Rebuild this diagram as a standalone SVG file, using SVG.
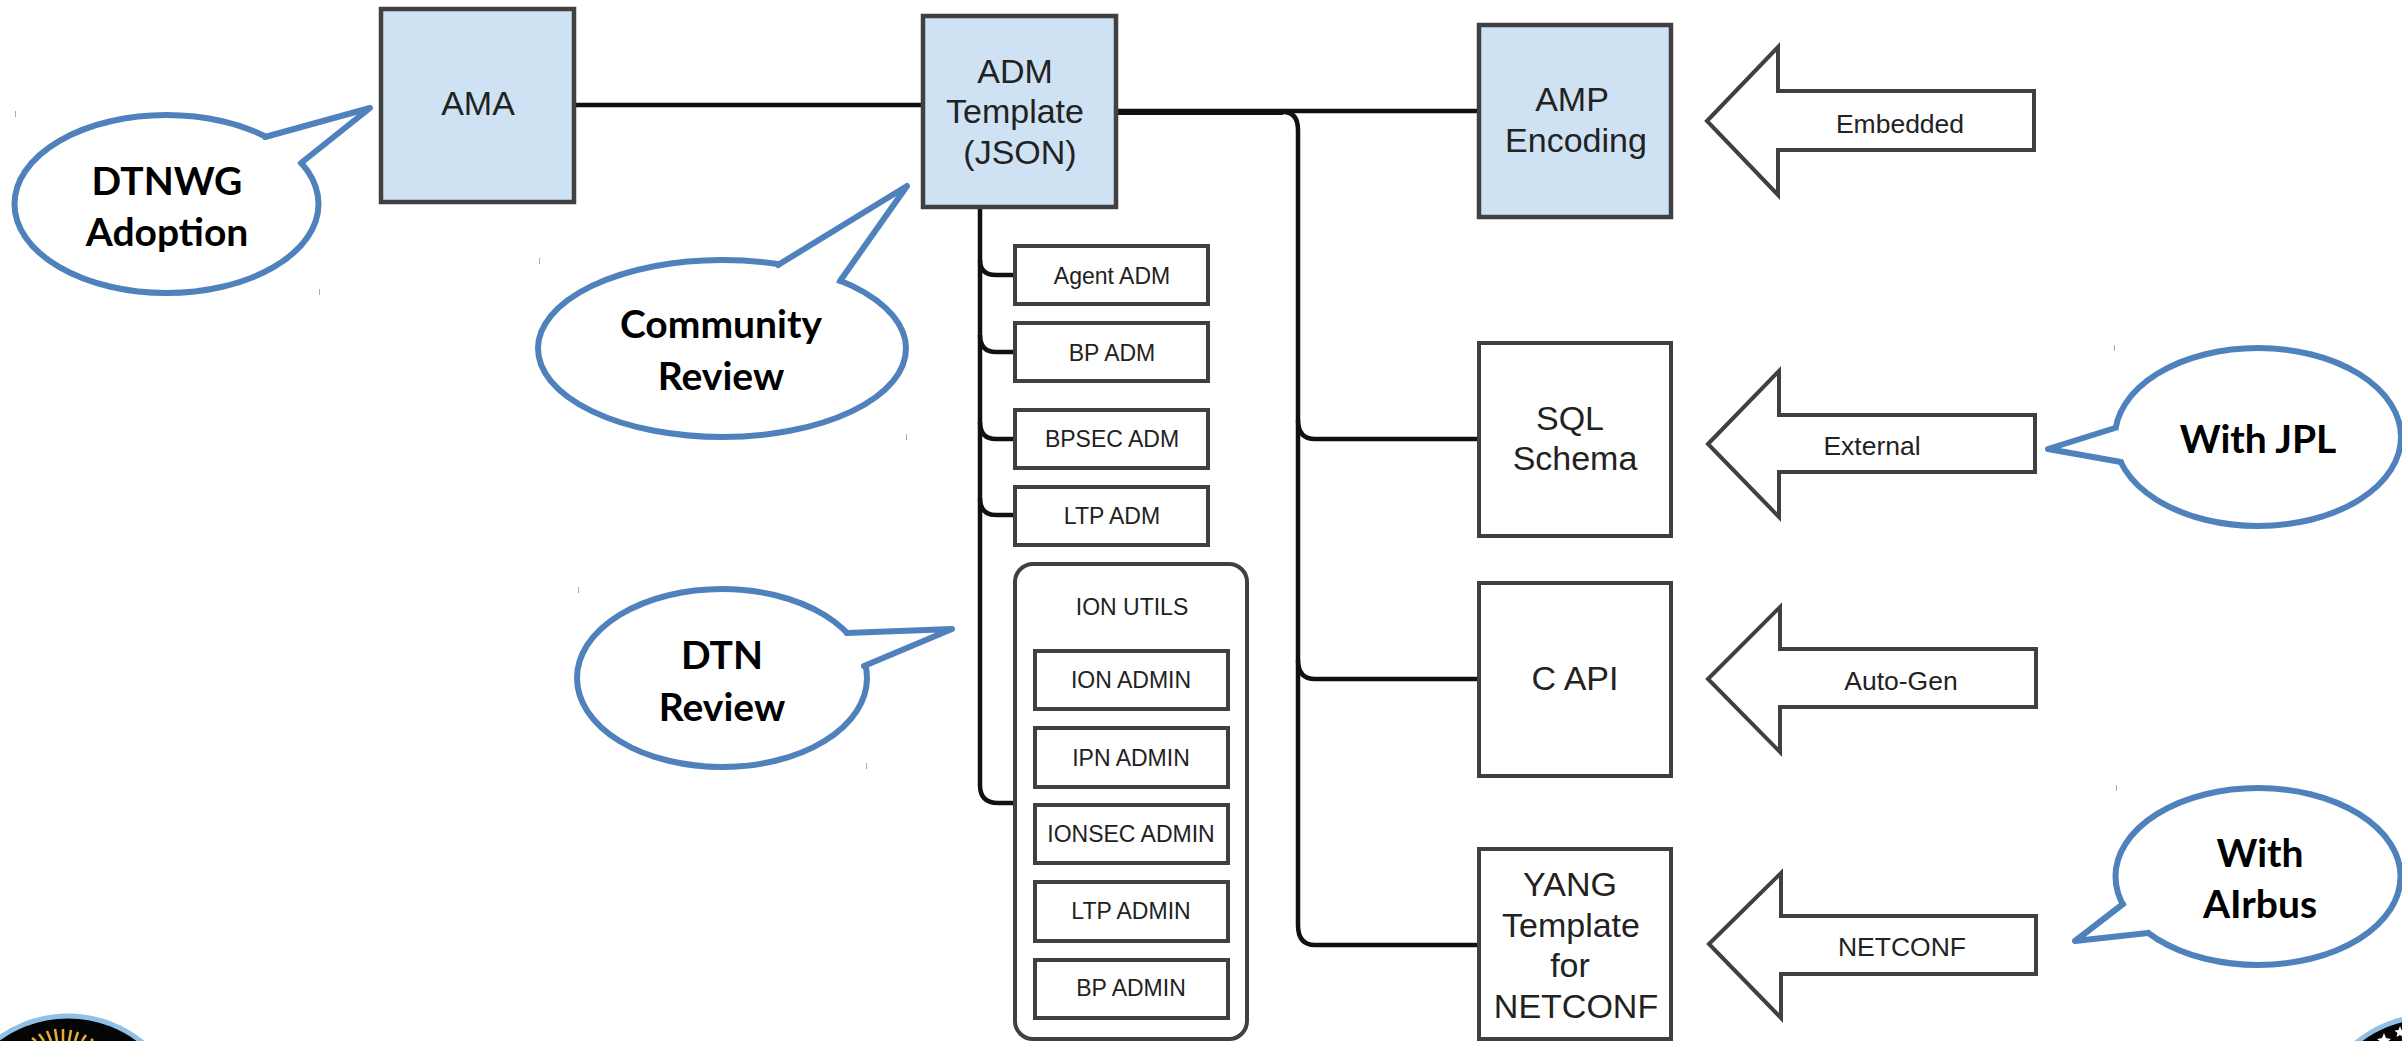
<svg xmlns="http://www.w3.org/2000/svg" width="2402" height="1041" viewBox="0 0 2402 1041">
<style>
.bx{fill:#fff;stroke:#404040;stroke-width:4}
.bl{fill:#cfe2f3;stroke:#404040;stroke-width:4.5}
.ln{fill:none;stroke:#111;stroke-width:4.5}
.ar{fill:#fff;stroke:#404040;stroke-width:4;stroke-linejoin:miter}
.co{fill:#fff;stroke:#4f81bd;stroke-width:6;stroke-linejoin:round}
.cf{fill:#fff;stroke:none}
.cp{fill:none;stroke:#4f81bd;stroke-width:6;stroke-linejoin:round;stroke-linecap:round}
.t{font-family:"Liberation Sans",Arial,sans-serif;fill:#222;text-anchor:middle}
.l{font-size:34px}.s{font-size:23px}.m{font-size:23px}.a{font-size:26.500px}
.c{font-family:Lato,"Open Sans",sans-serif;font-weight:700;font-size:39px;fill:#000;text-anchor:middle}
.tick{fill:#8fb0d8}
.ray{fill:none;stroke:#e8ab3c;stroke-width:2.500}
.star{fill:#fff}
</style>
<rect width="2402" height="1041" fill="#fff"/>
<g id="connectors">
<path class="ln" d="M575 105H922"/>
<path class="ln" d="M1116 111H1479"/>
<path class="ln" style="stroke-width:6" d="M1116 112H1283"/>
<path class="ln" d="M1283 112Q1298 112 1298 130V925Q1298 945 1315 945H1479"/>
<path class="ln" d="M1298 420Q1298 439 1315 439H1479"/>
<path class="ln" d="M1298 660Q1298 679 1315 679H1479"/>
<path class="ln" d="M980 207V785Q980 803 998 803H1015"/>
<path class="ln" d="M980 260Q980 275 996 275H1015"/>
<path class="ln" d="M980 335Q980 352 996 352H1015"/>
<path class="ln" d="M980 422Q980 439 996 439H1015"/>
<path class="ln" d="M980 498Q980 515 996 515H1015"/>
</g>
<g id="ama"><rect class="bl" x="381" y="9" width="193" height="193"/><text class="t l" x="478" y="115">AMA</text></g>
<g id="adm"><rect class="bl" x="923" y="16" width="193" height="191"/><text class="t l" x="1015" y="83">ADM</text><text class="t l" x="1015" y="123">Template</text><text class="t l" x="1020" y="164">(JSON)</text></g>
<g id="amp"><rect class="bl" x="1479" y="25" width="192" height="192"/><text class="t l" x="1572" y="111">AMP</text><text class="t l" x="1576" y="152">Encoding</text></g>
<g id="sql"><rect class="bx" x="1479" y="343" width="192" height="193"/><text class="t l" x="1570" y="430">SQL</text><text class="t l" x="1575" y="470">Schema</text></g>
<g id="capi"><rect class="bx" x="1479" y="583" width="192" height="193"/><text class="t l" x="1575" y="690">C API</text></g>
<g id="yang"><rect class="bx" x="1479" y="849" width="192" height="190"/><text class="t l" x="1570" y="896">YANG</text><text class="t l" x="1571" y="937">Template</text><text class="t l" x="1570" y="977">for</text><text class="t l" x="1576" y="1018">NETCONF</text></g>
<g id="agent-adm"><rect class="bx" x="1015" y="246" width="193" height="58"/><text class="t s" x="1112" y="284">Agent ADM</text></g>
<g id="bp-adm"><rect class="bx" x="1015" y="323" width="193" height="58"/><text class="t s" x="1112" y="361">BP ADM</text></g>
<g id="bpsec-adm"><rect class="bx" x="1015" y="410" width="193" height="58"/><text class="t s" x="1112" y="447">BPSEC ADM</text></g>
<g id="ltp-adm"><rect class="bx" x="1015" y="487" width="193" height="58"/><text class="t s" x="1112" y="524">LTP ADM</text></g>
<g id="ion-utils"><rect class="bx" x="1015" y="564" width="232" height="475" rx="18"/><text class="t m" x="1132" y="615">ION UTILS</text></g>
<g id="ion-admin"><rect class="bx" x="1035" y="651" width="193" height="58"/><text class="t m" x="1131" y="688">ION ADMIN</text></g>
<g id="ipn-admin"><rect class="bx" x="1035" y="728" width="193" height="59"/><text class="t m" x="1131" y="766">IPN ADMIN</text></g>
<g id="ionsec-admin"><rect class="bx" x="1035" y="805" width="193" height="58"/><text class="t m" x="1131" y="842">IONSEC ADMIN</text></g>
<g id="ltp-admin"><rect class="bx" x="1035" y="882" width="193" height="59"/><text class="t m" x="1131" y="919">LTP ADMIN</text></g>
<g id="bp-admin"><rect class="bx" x="1035" y="960" width="193" height="58"/><text class="t m" x="1131" y="996">BP ADMIN</text></g>
<g id="arrow-embedded"><path class="ar" d="M1707 121L1778 47V91H2034V150H1778V195Z"/><text class="t a" x="1900" y="133">Embedded</text></g>
<g id="arrow-external"><path class="ar" d="M1708 444L1779 371V415H2035V472H1779V517Z"/><text class="t a" x="1872" y="455">External</text></g>
<g id="arrow-autogen"><path class="ar" d="M1708 679L1780 607V649H2036V707H1780V752Z"/><text class="t a" x="1901" y="690">Auto-Gen</text></g>
<g id="arrow-netconf"><path class="ar" d="M1709 944L1781 873V916H2036V974H1781V1018Z"/><text class="t a" x="1902" y="956">NETCONF</text></g>
<g id="callout-dtnwg"><ellipse class="co" cx="166.500" cy="204" rx="152" ry="89"/><path class="cf" d="M265 137L370 108L301 163L270 165Z"/><path class="cp" d="M265 137L370 108L301 163"/><text class="c" x="167" y="195">DTNWG</text><text class="c" x="167" y="246">Adoption</text></g>
<g id="callout-community"><ellipse class="co" cx="722" cy="348.500" rx="184" ry="88.500"/><path class="cf" d="M778 265L907 186L840 281L800 290Z"/><path class="cp" d="M778 265L907 186L840 281"/><text class="c" x="721" y="338">Community</text><text class="c" x="721" y="390">Review</text></g>
<g id="callout-dtn"><ellipse class="co" cx="722" cy="678" rx="145" ry="89"/><path class="cf" d="M847 633L952 629L864 666L840 660Z"/><path class="cp" d="M847 633L952 629L864 666"/><text class="c" x="722" y="669">DTN</text><text class="c" x="722" y="721">Review</text></g>
<g id="callout-jpl"><ellipse class="co" cx="2258" cy="437" rx="143" ry="89"/><path class="cf" d="M2115 428L2048 449L2121 462L2135 445Z"/><path class="cp" d="M2115 428L2048 449L2121 462"/><text class="c" x="2258" y="453">With JPL</text></g>
<g id="callout-airbus"><ellipse class="co" cx="2258" cy="876.500" rx="142.500" ry="88.500"/><path class="cf" d="M2123 904L2075 941L2148 933L2150 915Z"/><path class="cp" d="M2123 904L2075 941L2148 933"/><text class="c" x="2260" y="867">With</text><text class="c" x="2260" y="918">AIrbus</text></g>
<g id="logo-left"><circle cx="68" cy="1134" r="118" fill="#050505" stroke="#8fc1e8" stroke-width="5"/><path class="ray" d="M32 1038L36 1041M39 1034L44 1041M47 1031L51 1041M55 1029L57 1041M63 1029V1041M71 1030L69 1041M78 1032L75 1041M86 1035L82 1041M93 1039L91 1041"/></g>
<g id="logo-right"><circle cx="2431" cy="1134" r="118" fill="#050505" stroke="#8fc1e8" stroke-width="5"/><path class="star" d="M2384 1033l2 5 5 1 -4 3h-6l-4 -3 5 -1zM2400 1026l1.500 4 4 .5 -3 2.500 1 4 -3.500 -2 -3.500 2 1 -4 -3 -2.500 4 -.5z"/></g>
<g id="ticks"><rect class="tick" x="15" y="111" width="1" height="6"/><rect class="tick" x="319" y="289" width="1" height="6"/><rect class="tick" x="539" y="258" width="1" height="6"/><rect class="tick" x="906" y="434" width="1" height="6"/><rect class="tick" x="578" y="587" width="1" height="6"/><rect class="tick" x="866" y="763" width="1" height="6"/><rect class="tick" x="2114" y="345" width="1" height="6"/><rect class="tick" x="2116" y="785" width="1" height="6"/></g>
</svg>
